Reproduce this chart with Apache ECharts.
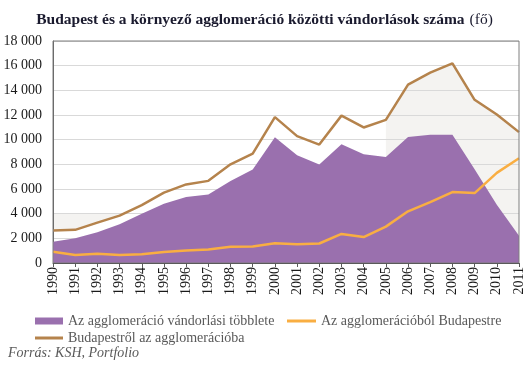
<!DOCTYPE html>
<html>
<head>
<meta charset="utf-8">
<script src="https://cdn.jsdelivr.net/npm/echarts@6/dist/echarts.min.js"></script>
<style>
html,body{margin:0;padding:0;background:#fff;}
#c{width:529px;height:365px;}
</style>
</head>
<body>
<div id="c"></div>
<script>
const years = ['1990','1991','1992','1993','1994','1995','1996','1997','1998','1999','2000','2001','2002','2003','2004','2005','2006','2007','2008','2009','2010','2011'];
const surplus = [1720,2010,2500,3140,4000,4810,5350,5560,6640,7580,10190,8730,7980,9620,8810,8600,10210,10400,10400,7600,4730,2200];
const toBudapest = [910,645,750,645,700,885,1020,1100,1315,1340,1610,1530,1580,2360,2100,2950,4190,4940,5750,5670,7310,8490];
const fromBudapest = [2630,2690,3270,3840,4700,5700,6370,6660,8000,8870,11830,10290,9600,11950,10990,11610,14460,15430,16180,13230,12040,10610];
const nameSurplus = 'Az agglomeráció vándorlási többlete';
const nameTo = 'Az agglomerációból Budapestre';
const nameFrom = 'Budapestről az agglomerációba';
const leftBandYears = ['1990','1994'];
const leftBandTop = 4000;
const coverLastYear = '2005';

const serif = '"Liberation Serif", "DejaVu Serif", serif';
const coverIdx = years.indexOf(coverLastYear);
const coverData = fromBudapest.map((v,i) => i <= coverIdx ? v : null);
const fmt = v => String(v).replace(/\B(?=(\d{3})+(?!\d))/g, ' ');
const legText = {fontFamily: serif, fontSize: 14, color: '#595959'};

const chart = echarts.init(document.getElementById('c'), null, {renderer:'canvas'});
chart.setOption({
  animation: false,
  backgroundColor: '#fff',
  title: {
    left: 'center', top: 6,
    text: '{b|Budapest és a környező agglomeráció közötti vándorlások száma} {n|(fő)}',
    textStyle: {
      rich: {
        b: {fontFamily: serif, fontSize: 15.5, fontWeight: 'bold', color: '#1a1a2e'},
        n: {fontFamily: serif, fontSize: 15.5, fontWeight: 'normal', color: '#1a1a2e'}
      }
    }
  },
  grid: {left: 53, right: 10, top: 41, bottom: 102, show: true, z: 6, borderColor: '#7f7f7f', borderWidth: 1, backgroundColor: 'transparent'},
  legend: [
    {left: 30, top: 309, itemWidth: 28, itemHeight: 7, data: [{name: nameSurplus, icon: 'rect'}], textStyle: legText},
    {left: 282, top: 309, itemWidth: 29, itemHeight: 3, data: [{name: nameTo, icon: 'rect'}], textStyle: legText},
    {left: 30, top: 326, itemWidth: 28, itemHeight: 3, data: [{name: nameFrom, icon: 'rect'}], textStyle: legText}
  ],
  graphic: [{type: 'text', left: 8, top: 346, style: {text: 'Forrás: KSH, Portfolio', font: 'italic 14px ' + serif, fill: '#595959'}}],
  xAxis: {
    type: 'category', data: years, boundaryGap: false, z: 7,
    axisLine: {lineStyle: {color: '#595959', width: 1}},
    axisTick: {show: true, length: 4, lineStyle: {color: '#595959'}},
    axisLabel: {rotate: 90, fontFamily: serif, fontSize: 14, color: '#1a1a1a', margin: 4}
  },
  yAxis: {
    type: 'value', min: 0, max: 18000, interval: 2000, z: 2,
    axisLine: {show: true, lineStyle: {color: '#595959'}},
    axisTick: {show: false},
    splitLine: {lineStyle: {color: '#d9d9d9', width: 1}},
    axisLabel: {fontFamily: serif, fontSize: 14, color: '#1a1a1a', margin: 11, formatter: fmt}
  },
  series: [
    {name: 'bg', type: 'line', data: fromBudapest, z: 1, symbol: 'none', silent: true,
     lineStyle: {width: 0, opacity: 0}, areaStyle: {color: '#f4f3f1', opacity: 1},
     markArea: {silent: true, itemStyle: {color: '#f4f3f1'},
       data: [[{xAxis: leftBandYears[0], yAxis: 0}, {xAxis: leftBandYears[1], yAxis: leftBandTop}]]}},
    {name: 'cover', type: 'line', data: coverData, z: 1.5, symbol: 'none', silent: true,
     lineStyle: {width: 0, opacity: 0}, areaStyle: {color: '#ffffff', opacity: 1}},
    {name: nameSurplus, type: 'line', data: surplus, z: 3, symbol: 'none',
     itemStyle: {color: '#9a70ae'}, lineStyle: {width: 0, opacity: 0}, areaStyle: {color: '#9a70ae', opacity: 1}},
    {name: nameTo, type: 'line', data: toBudapest, z: 4, symbol: 'none',
     itemStyle: {color: '#f9ae42'}, lineStyle: {width: 2.5, color: '#f9ae42'}},
    {name: nameFrom, type: 'line', data: fromBudapest, z: 4, symbol: 'none',
     itemStyle: {color: '#b5834c'}, lineStyle: {width: 2.5, color: '#b5834c'}}
  ]
});
</script>
</body>
</html>
